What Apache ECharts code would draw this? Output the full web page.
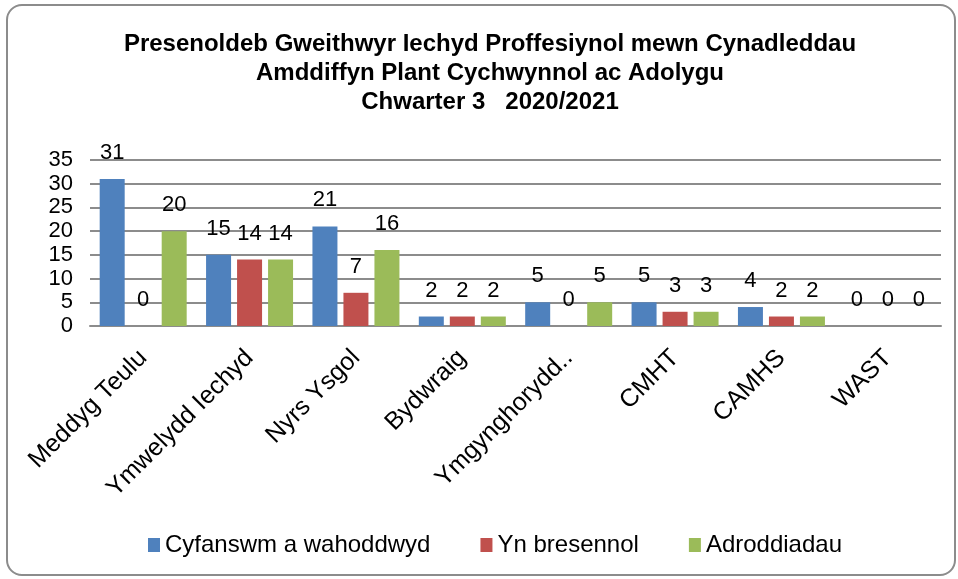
<!DOCTYPE html>
<html>
<head>
    <meta charset="UTF-8">
    <title>Presenoldeb Gweithwyr Iechyd</title>
    <style>
        html, body { margin: 0; padding: 0; background: #fff; }
        #frame { position: absolute; left: 6px; top: 4px; width: 946px; height: 568px;
                 border: 2px solid #8c8c8c; border-radius: 16px; }
    </style>
</head>
<body>
<div id="frame"></div>
<div id="main" style="position:absolute; left:0; top:0; width:958px; height:579px;"></div>

<script type="text/javascript" src="https://cdn.jsdelivr.net/npm/echarts@6/dist/echarts.min.js"></script>
<script type="text/javascript">

    // categories and values
    var categories = ['Meddyg Teulu', 'Ymwelydd Iechyd', 'Nyrs Ysgol', 'Bydwraig',
                      'Ymgynghorydd..', 'CMHT', 'CAMHS', 'WAST'];
    var invited = [31, 15, 21, 2, 5, 5, 4, 0];
    var attended = [0, 14, 7, 2, 0, 3, 2, 0];
    var reports = [20, 14, 16, 2, 5, 3, 2, 0];
    var seriesNames = ['Cyfanswm a wahoddwyd', 'Yn bresennol', 'Adroddiadau'];

    var myChart = echarts.init(document.getElementById('main'));

    var font = 'Liberation Sans';
    var labelStyle = {
        show: true,
        position: 'top',
        distance: 15,
        color: '#000',
        fontSize: 22,
        fontFamily: font
    };

    var option = {
        animation: false,
        title: {
            text: 'Presenoldeb Gweithwyr Iechyd Proffesiynol mewn Cynadleddau\nAmddiffyn Plant Cychwynnol ac Adolygu\nChwarter 3   2020/2021',
            left: 485,
            textAlign: 'center',
            top: 25,
            textStyle: {
                fontFamily: font,
                fontWeight: 'bold',
                fontSize: 24,
                lineHeight: 29,
                color: '#000'
            }
        },
        legend: {
            data: seriesNames,
            top: 528,
            left: 143,
            itemWidth: 12,
            itemHeight: 14,
            itemGap: 50,
            icon: 'rect',
            textStyle: { fontFamily: font, fontSize: 24, color: '#000' }
        },
        grid: {
            left: 90,
            right: 17,
            top: 160,
            bottom: 253,
            containLabel: false
        },
        xAxis: {
            type: 'category',
            data: categories,
            axisLine: { lineStyle: { color: '#8c8c8c', width: 2 } },
            axisTick: { show: false },
            axisLabel: {
                rotate: 45,
                interval: 0,
                margin: 28,
                color: '#000',
                fontSize: 25,
                fontFamily: font
            }
        },
        yAxis: {
            type: 'value',
            min: 0,
            max: 35,
            interval: 5,
            axisLine: { show: false },
            axisTick: { show: false },
            splitLine: { lineStyle: { color: '#8c8c8c', width: 2 } },
            axisLabel: {
                color: '#000',
                fontSize: 22,
                fontFamily: font,
                margin: 17
            }
        },
        series: [
            {
                name: seriesNames[0],
                type: 'bar',
                data: invited,
                barWidth: 25,
                barGap: '24%',
                itemStyle: { color: '#4F81BD' },
                label: labelStyle
            },
            {
                name: seriesNames[1],
                type: 'bar',
                data: attended,
                barWidth: 25,
                barGap: '24%',
                itemStyle: { color: '#C0504D' },
                label: labelStyle
            },
            {
                name: seriesNames[2],
                type: 'bar',
                data: reports,
                barWidth: 25,
                barGap: '24%',
                itemStyle: { color: '#9BBB59' },
                label: labelStyle
            }
        ]
    };

    myChart.setOption(option);
</script>
</body>
</html>
